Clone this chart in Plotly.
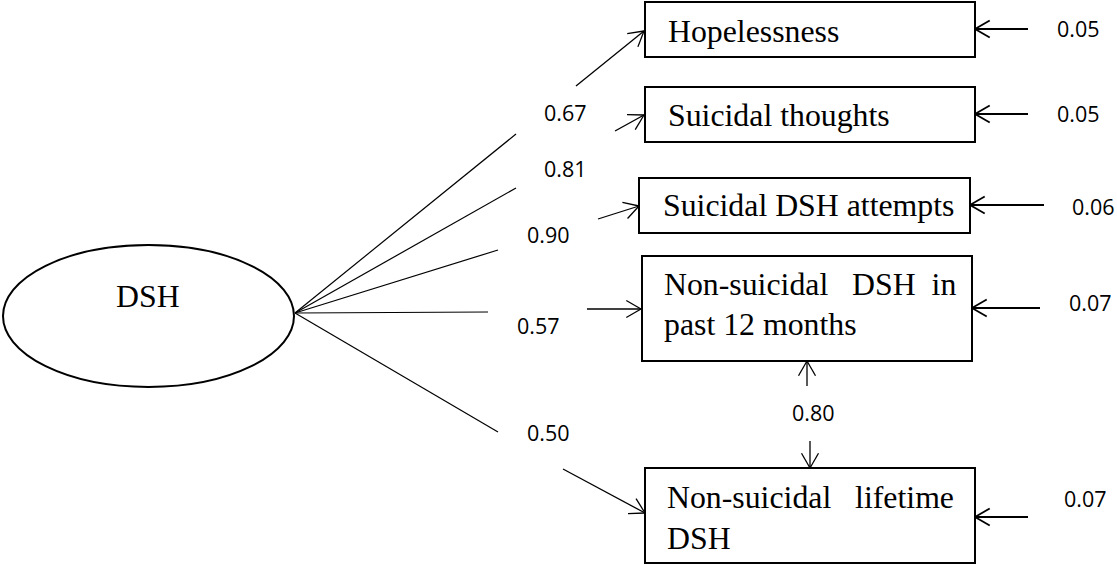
import math
import plotly.graph_objects as go

# ---------------- data ----------------
latent = "DSH"
indicator_lines = [
    ["Hopelessness"],
    ["Suicidal thoughts"],
    ["Suicidal DSH attempts"],
    ["Non-suicidal\u00a0\u00a0\u00a0DSH\u00a0\u00a0in", "past 12 months"],
    ["Non-suicidal\u00a0\u00a0\u00a0lifetime", "DSH"],
]
loadings = [0.67, 0.81, 0.90, 0.57, 0.50]
residuals = [0.05, 0.05, 0.06, 0.07, 0.07]
covariance = 0.80

# ---------------- layout geometry (diagram pixel space) ----------------
W, H = 1117, 565
ellipse = dict(x0=3, x1=294, y0=245, y1=387)
latent_text = (148, 296)
origin = (295, 313)

boxes = [(645, 975, 2, 57), (645, 975, 87, 142), (639, 970, 178, 233),
         (642, 972, 256, 361), (645, 975, 468, 563)]
text_left = [666, 666, 661, 662, 665]
line_y = [[31.5], [115.5], [205.5], [284, 324], [497, 538.5]]

seg1_end = [(516, 134), (516, 188), (498, 250), (488, 312), (498, 432)]
seg2 = [((576, 86), (644, 31)), ((615, 131), (644, 115)), ((598, 219), (639, 206)),
        ((587, 309), (641, 309)), ((563, 469), (645, 513))]
load_label = [(565, 112.5), (565, 168), (548, 234.5), (538, 325), (548, 432)]

res_arrow = [(1028, 975, 29), (1028, 975, 114), (1044, 970, 205),
             (1040, 972, 308), (1028, 975, 517)]
res_label = [(1078, 28.5), (1078, 113.5), (1093, 206), (1090, 302.5), (1085.5, 498)]

cov_up = ((807, 386), (807, 361))
cov_down = ((810, 441), (810, 468))
cov_label = (813, 412.5)

SERIF = "Times New Roman, Liberation Serif, serif"
SANS = "Open Sans, Noto Sans, sans-serif"
SERIF_SIZE = 31.8
SANS_SIZE = 21.5

fig = go.Figure()


def add_line(p, q, width=1.3):
    fig.add_trace(go.Scatter(x=[p[0], q[0]], y=[p[1], q[1]], mode="lines",
                             line=dict(color="black", width=width),
                             hoverinfo="skip", showlegend=False))


def add_arrow(p, q, width=1.3, head=17, ang=30):
    add_line(p, q, width)
    dx, dy = q[0] - p[0], q[1] - p[1]
    L = math.hypot(dx, dy)
    ux, uy = dx / L, dy / L
    for s in (1, -1):
        a = math.radians(ang) * s
        rx = -(ux * math.cos(a) - uy * math.sin(a))
        ry = -(ux * math.sin(a) + uy * math.cos(a))
        add_line(q, (q[0] + rx * head, q[1] + ry * head), width)


shapes = []
shapes.append(dict(type="circle", xref="x", yref="y", **ellipse,
                   line=dict(color="black", width=2)))
for (x0, x1, y0, y1) in boxes:
    shapes.append(dict(type="rect", xref="x", yref="y", x0=x0, x1=x1, y0=y0, y1=y1,
                       line=dict(color="black", width=2)))

annotations = []
annotations.append(dict(x=latent_text[0], y=latent_text[1], text=latent, showarrow=False,
                        xanchor="center", yanchor="middle",
                        font=dict(family=SERIF, size=SERIF_SIZE, color="black")))

for i in range(len(loadings)):
    add_line(origin, seg1_end[i], 1.2)
    add_arrow(seg2[i][0], seg2[i][1], 1.3)
    annotations.append(dict(x=load_label[i][0], y=load_label[i][1], text=f"{loadings[i]:.2f}",
                            showarrow=False, xanchor="center", yanchor="middle",
                            font=dict(family=SANS, size=SANS_SIZE, color="black")))
    for txt, yy in zip(indicator_lines[i], line_y[i]):
        annotations.append(dict(x=text_left[i], y=yy, text=txt, showarrow=False,
                                xanchor="left", yanchor="middle",
                                font=dict(family=SERIF, size=SERIF_SIZE, color="black")))
    xs, xe, yr = res_arrow[i]
    add_arrow((xs, yr), (xe, yr), 1.8)
    annotations.append(dict(x=res_label[i][0], y=res_label[i][1], text=f"{residuals[i]:.2f}",
                            showarrow=False, xanchor="center", yanchor="middle",
                            font=dict(family=SANS, size=SANS_SIZE, color="black")))

add_arrow(cov_up[0], cov_up[1], 1.3)
add_arrow(cov_down[0], cov_down[1], 1.3)
annotations.append(dict(x=cov_label[0], y=cov_label[1], text=f"{covariance:.2f}",
                        showarrow=False, xanchor="center", yanchor="middle",
                        font=dict(family=SANS, size=SANS_SIZE, color="black")))

fig.update_layout(
    width=W, height=H,
    margin=dict(l=0, r=0, t=0, b=0),
    paper_bgcolor="white", plot_bgcolor="white",
    xaxis=dict(range=[0, W], visible=False, fixedrange=True),
    yaxis=dict(range=[H, 0], visible=False, fixedrange=True),
    shapes=shapes, annotations=annotations, showlegend=False,
)

fig.write_html("out.html", config={"displayModeBar": False},
               post_script="document.body.style.margin='0px';document.body.style.overflow='hidden';")
